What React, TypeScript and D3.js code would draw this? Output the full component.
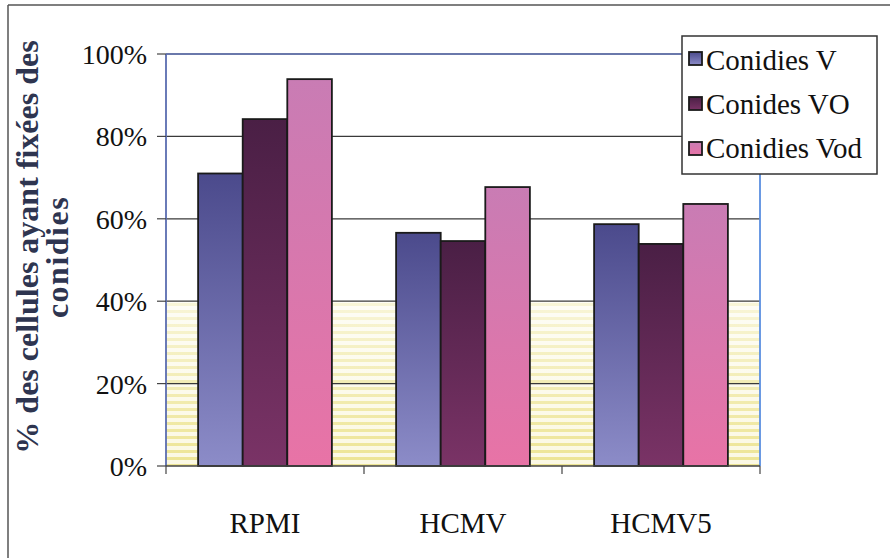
import React from "react";
import * as d3 from "d3";

const categories = ["RPMI", "HCMV", "HCMV5"];
const seriesNames = ["Conidies V", "Conides VO", "Conidies Vod"];
const conidiesV = [0.71, 0.566, 0.587];
const conidesVO = [0.842, 0.546, 0.539];
const conidiesVod = [0.939, 0.677, 0.636];
const yTicks = [0, 0.2, 0.4, 0.6, 0.8, 1.0];
const yTitleLines = ["% des cellules ayant fixées des", "conidies"];

const seriesValues = [conidiesV, conidesVO, conidiesVod];
const gradients = [
  ["#4b4a8c", "#8c8cc8"],
  ["#4a1f45", "#7a3366"],
  ["#c97cb4", "#e873a6"],
];

const W = 890;
const H = 558;
const m = { left: 166, right: 760, top: 54, bottom: 466 };
const font = "Liberation Serif, Tinos, DejaVu Serif, serif";

export default function App() {
  const x = d3.scaleBand<string>().domain(categories).range([m.left, m.right]).padding(0);
  const xs = d3
    .scaleBand<number>()
    .domain(seriesNames.map((_, i) => i))
    .range([0, x.bandwidth()])
    .paddingInner(0)
    .paddingOuter(0.72);
  const y = d3.scaleLinear().domain([0, 1]).range([m.bottom, m.top]);
  const fmt = d3.format(".0%");
  const tf = { fontFamily: font };

  return (
    <svg width={W} height={H} style={{ position: "absolute", left: 0, top: 0, background: "#fff" }}>
      <defs>
        {gradients.map((g, i) => (
          <linearGradient key={i} id={`g${i}`} x1="0" y1="0" x2="0" y2="1">
            <stop offset="0" stopColor={g[0]} />
            <stop offset="1" stopColor={g[1]} />
          </linearGradient>
        ))}
        <pattern id="stripes" width="8" height="7" patternUnits="userSpaceOnUse">
          <rect width="8" height="7" fill="#fbf8e2" />
          <rect y="2" width="8" height="3" fill="#ece38e" />
        </pattern>
        <linearGradient id="fade" x1="0" y1="0" x2="0" y2="1">
          <stop offset="0" stopColor="#fff" stopOpacity="0.65" />
          <stop offset="0.5" stopColor="#fff" stopOpacity="0.35" />
          <stop offset="1" stopColor="#fff" stopOpacity="0.05" />
        </linearGradient>
      </defs>
      <rect x={0} y={0} width={W} height={H} fill="#fff" />
      {/* outer frame */}
      <line x1={8} y1={5} x2={W} y2={5} stroke="#555" strokeWidth={1.5} />
      <line x1={8} y1={5} x2={8} y2={H} stroke="#555" strokeWidth={1.5} />

      {/* yellow textured lower region */}
      <rect x={m.left} y={y(0.4)} width={m.right - m.left} height={y(0) - y(0.4)} fill="url(#stripes)" />
      <rect x={m.left} y={y(0.4)} width={m.right - m.left} height={y(0) - y(0.4)} fill="url(#fade)" />

      {/* gridlines */}
      {yTicks.slice(1).map((t) => (
        <line key={t} x1={m.left} x2={m.right} y1={y(t)} y2={y(t)} stroke="#3a3a3a" strokeWidth={1.2} />
      ))}
      {/* plot border (blue) */}
      <line x1={m.left} x2={m.right} y1={m.top} y2={m.top} stroke="#5a6cb0" strokeWidth={1.5} />
      <line x1={m.left} x2={m.left} y1={m.top} y2={m.bottom} stroke="#5a6cb0" strokeWidth={1.8} />
      <line x1={m.right} x2={m.right} y1={m.top} y2={m.bottom} stroke="#5a8ee0" strokeWidth={1.8} />

      {/* bars */}
      {categories.map((c, ci) =>
        seriesValues.map((vals, si) => (
          <rect
            key={`${c}-${si}`}
            x={(x(c) as number) + (xs(si) as number)}
            y={y(vals[ci])}
            width={xs.bandwidth()}
            height={y(0) - y(vals[ci])}
            fill={`url(#g${si})`}
            stroke="#1a1a1a"
            strokeWidth={1.8}
          />
        ))
      )}

      {/* x axis */}
      <line x1={m.left} x2={m.right} y1={m.bottom} y2={m.bottom} stroke="#444" strokeWidth={1.5} />
      {categories.map((c) => (
        <line key={c} x1={x(c)} x2={x(c)} y1={m.bottom} y2={m.bottom + 8} stroke="#444" strokeWidth={1.2} />
      ))}
      <line x1={m.right} x2={m.right} y1={m.bottom} y2={m.bottom + 8} stroke="#444" strokeWidth={1.2} />
      {categories.map((c) => (
        <text
          key={c}
          x={(x(c) as number) + x.bandwidth() / 2}
          y={533}
          textAnchor="middle"
          style={tf}
          fontSize={29}
          fill="#111"
        >
          {c}
        </text>
      ))}

      {/* y axis ticks */}
      {yTicks.map((t) => (
        <g key={t}>
          <line x1={m.left - 9} x2={m.left} y1={y(t)} y2={y(t)} stroke="#444" strokeWidth={1.2} />
          <text x={147} y={y(t) + 10} textAnchor="end" style={tf} fontSize={28} fill="#111">
            {fmt(t)}
          </text>
        </g>
      ))}

      {/* y title */}
      <g transform="rotate(-90)" fill="#2e3550" fontWeight="bold" fontSize={32}>
        <text x={-247} y={38} textAnchor="middle" style={tf}>{yTitleLines[0]}</text>
        <text x={-257} y={68} textAnchor="middle" style={{ ...tf, letterSpacing: "1.5px" }}>{yTitleLines[1]}</text>
      </g>

      {/* legend */}
      <rect x={682} y={36} width={195} height={138} fill="#fff" stroke="#333" strokeWidth={1.5} />
      {seriesNames.map((s, i) => (
        <g key={s}>
          <rect x={689} y={52 + i * 45} width={13} height={13} fill={`url(#g${i})`} stroke="#1a1a1a" strokeWidth={1.8} />
          <text x={706} y={70 + i * 44} style={tf} fontSize={29} fill="#111">
            {s}
          </text>
        </g>
      ))}
    </svg>
  );
}
